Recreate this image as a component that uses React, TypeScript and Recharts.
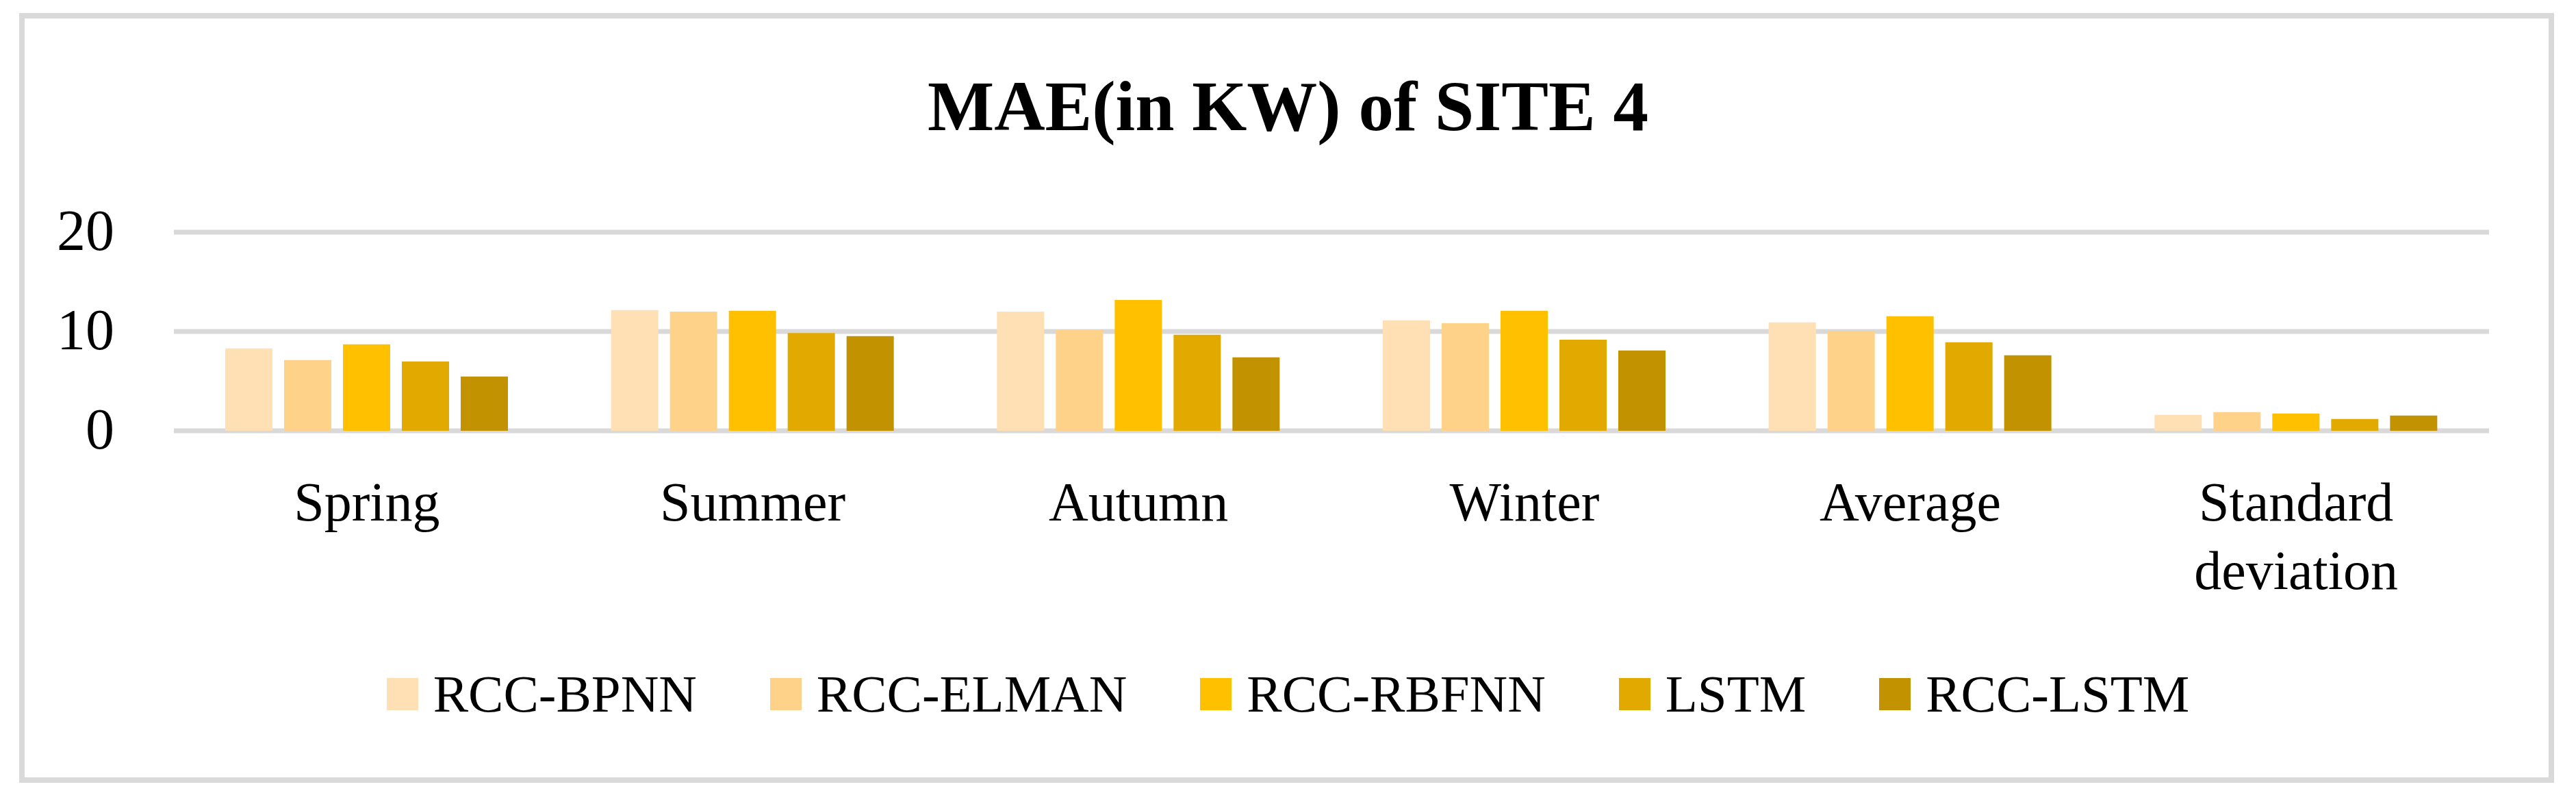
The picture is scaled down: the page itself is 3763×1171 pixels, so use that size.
import React from 'react';
import { BarChart, Bar, XAxis, YAxis, CartesianGrid, Legend } from 'recharts';

const categories = ['Spring', 'Summer', 'Autumn', 'Winter', 'Average', 'Standard deviation'];

const rccBpnn = [8.3, 12.15, 12.0, 11.12, 10.92, 1.61];
const rccElman = [7.12, 12.0, 10.17, 10.85, 10.04, 1.88];
const rccRbfnn = [8.71, 12.08, 13.18, 12.08, 11.54, 1.74];
const lstm = [6.99, 9.85, 9.67, 9.18, 8.92, 1.19];
const rccLstm = [5.47, 9.53, 7.39, 8.08, 7.61, 1.54];

const yTicks = [0, 10, 20];

const seriesNames = ['RCC-BPNN', 'RCC-ELMAN', 'RCC-RBFNN', 'LSTM', 'RCC-LSTM'];
const seriesColors = ['#FFE0B4', '#FFD28A', '#FFC000', '#E2AA00', '#C29200'];
const seriesValues = [rccBpnn, rccElman, rccRbfnn, lstm, rccLstm];

const data = categories.map((name, i) => {
  const row: Record<string, string | number> = { name };
  seriesNames.forEach((s, j) => {
    row[s] = seriesValues[j][i];
  });
  return row;
});

const FONT = '"Liberation Serif", "Times New Roman", serif';

const YTick = (props: any) => {
  const { x, y, payload } = props;
  return (
    <text x={x} y={y + 26} textAnchor="end" fontFamily={FONT} fontSize={84} fill="#000">
      {payload.value}
    </text>
  );
};

const XTick = (props: any) => {
  const { x, y, payload } = props;
  const lines = String(payload.value).split(' ');
  return (
    <text x={x} y={y + 125} textAnchor="middle" fontFamily={FONT} fontSize={80} fill="#000">
      {lines.map((l, i) => (
        <tspan key={i} x={x} dy={i === 0 ? 0 : 100}>
          {l}
        </tspan>
      ))}
    </text>
  );
};

const LegendContent = () => (
  <div
    style={{
      display: 'flex',
      justifyContent: 'center',
      alignItems: 'center',
      fontFamily: FONT,
      fontSize: 77,
      lineHeight: 1,
      color: '#000',
    }}
  >
    {seriesNames.map((s, i) => (
      <div key={s} style={{ display: 'flex', alignItems: 'center', marginRight: i < seriesNames.length - 1 ? 107 : 0 }}>
        <div style={{ width: 46, height: 47, background: seriesColors[i], marginRight: 22 }} />
        <span>{s}</span>
      </div>
    ))}
  </div>
);

export default function App() {
  return (
    <div style={{ position: 'absolute', left: 0, top: 0, width: 3763, height: 1171, background: '#fff' }}>
      <div
        style={{
          position: 'absolute',
          left: 28,
          top: 19,
          width: 3703,
          height: 1124,
          border: '8px solid #D9D9D9',
          boxSizing: 'border-box',
        }}
      />
      <div
        style={{
          position: 'absolute',
          left: 0,
          top: 104,
          width: 3763,
          textAlign: 'center',
          fontFamily: FONT,
          fontWeight: 'bold',
          fontSize: 103,
          lineHeight: 1,
          color: '#000',
        }}
      >
        MAE(in KW) of SITE 4
      </div>
      <div style={{ position: 'absolute', left: 0, top: 0 }}>
        <BarChart
          width={3763}
          height={1171}
          data={data}
          margin={{ top: 339, right: 127, bottom: 442, left: 0 }}
          barSize={69}
          barGap={17}
        >
          <CartesianGrid vertical={false} stroke="#D9D9D9" strokeWidth={7} />
          <XAxis dataKey="name" axisLine={false} tickLine={false} tickMargin={0} height={100} interval={0} tick={<XTick />} />
          <YAxis
            domain={[0, 20]}
            ticks={yTicks}
            width={254}
            axisLine={false}
            tickLine={false}
            tickMargin={81}
            tick={<YTick />}
          />
          <Legend
            layout="horizontal"
            verticalAlign="middle"
            align="center"
            content={<LegendContent />}
            wrapperStyle={{ position: 'absolute', left: 0, top: 975, width: 3763 }}
          />
          {seriesNames.map((s, i) => (
            <Bar key={s} dataKey={s} fill={seriesColors[i]} isAnimationActive={false} />
          ))}
        </BarChart>
      </div>
    </div>
  );
}
